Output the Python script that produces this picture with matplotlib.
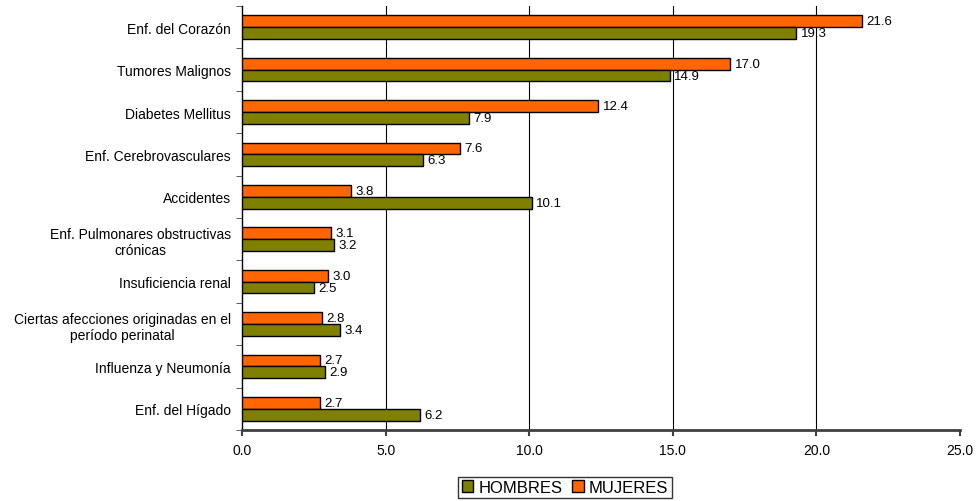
import matplotlib
matplotlib.use("Agg")
import matplotlib.pyplot as plt
import numpy as np

categorias = [
    "Enf. del Corazón",
    "Tumores Malignos",
    "Diabetes Mellitus",
    "Enf. Cerebrovasculares",
    "Accidentes",
    "Enf. Pulmonares obstructivas\ncrónicas",
    "Insuficiencia renal",
    "Ciertas afecciones originadas en el\nperíodo perinatal",
    "Influenza y Neumonía",
    "Enf. del Hígado",
]
hombres = [19.3, 14.9, 7.9, 6.3, 10.1, 3.2, 2.5, 3.4, 2.9, 6.2]
mujeres = [21.6, 17.0, 12.4, 7.6, 3.8, 3.1, 3.0, 2.8, 2.7, 2.7]
ticks_x = [0, 5, 10, 15, 20, 25]

plt.rcParams["font.family"] = ["Liberation Sans", "DejaVu Sans"]

fig = plt.figure(figsize=(9.76, 5.02), dpi=100)
ax = fig.add_axes([0.248, 0.1414, 0.7356, 0.8446])

n = len(categorias)
y = np.arange(n)
h = 0.28
col_h = "#808000"
col_m = "#FF6600"
fs = 10
fs_val = 9.5

bm = ax.barh(y - h / 2, mujeres, height=h, color=col_m, edgecolor="black",
             linewidth=1.0, label="MUJERES", zorder=3)
bh = ax.barh(y + h / 2, hombres, height=h, color=col_h, edgecolor="black",
             linewidth=1.0, label="HOMBRES", zorder=3)

for yi, v in zip(y - h / 2, mujeres):
    ax.text(v + 0.15, yi, f"{v:.1f}", va="center", ha="left", fontsize=fs_val, zorder=4)
for yi, v in zip(y + h / 2, hombres):
    ax.text(v + 0.15, yi, f"{v:.1f}", va="center", ha="left", fontsize=fs_val, zorder=4)

ax.set_ylim(n - 0.5, -0.5)
ax.set_xlim(0, 25)
ax.set_yticks(y)
ax.set_yticklabels(categorias, fontsize=fs, ha="right", multialignment="center")
ax.tick_params(axis="y", which="major", length=0, pad=8)
ax.set_yticks(np.arange(-0.5, n, 1.0), minor=True)
ax.tick_params(axis="y", which="minor", length=4, direction="out", color="#404040")

ax.set_xticks(ticks_x)
ax.set_xticklabels([f"{t:.1f}" for t in ticks_x], fontsize=fs)
ax.tick_params(axis="x", length=4, direction="out", color="#404040", width=1.5, pad=5)

for t in ticks_x[1:-1]:
    ax.axvline(t, color="black", linewidth=0.8, zorder=0)
for s in ["top", "right"]:
    ax.spines[s].set_visible(False)
ax.spines["bottom"].set_color("#404040")
ax.spines["bottom"].set_linewidth(2)
ax.spines["left"].set_color("black")
ax.spines["left"].set_linewidth(1.0)

leg = fig.legend(handles=[bh, bm], labels=["HOMBRES", "MUJERES"], loc="center",
                 bbox_to_anchor=(0.579, 0.027), ncol=2, frameon=True, fancybox=False,
                 edgecolor="black", fontsize=12, handlelength=0.7, handleheight=0.7,
                 handletextpad=0.3, columnspacing=0.6, borderpad=0.2, borderaxespad=0)
leg.get_frame().set_linewidth(1.0)

fig.savefig("out.png", dpi=100)
